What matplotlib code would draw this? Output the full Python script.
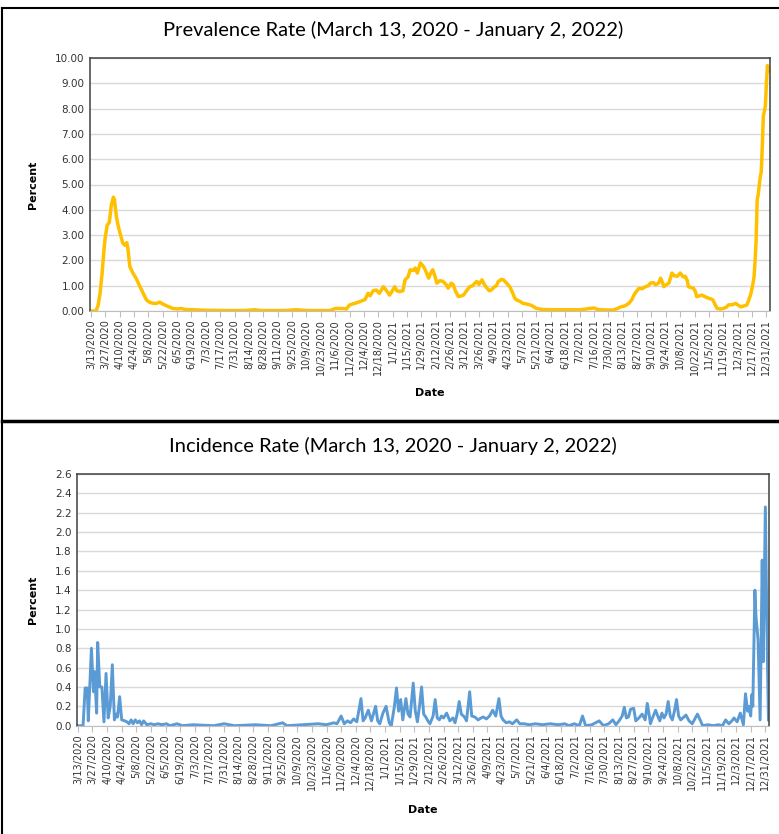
import matplotlib
matplotlib.use("Agg")
import matplotlib.pyplot as plt
import numpy as np

# tick labels every 14 days from 3/13/2020
tick_labels = ["3/13/2020", "3/27/2020", "4/10/2020", "4/24/2020", "5/8/2020", "5/22/2020",
               "6/5/2020", "6/19/2020", "7/3/2020", "7/17/2020", "7/31/2020", "8/14/2020",
               "8/28/2020", "9/11/2020", "9/25/2020", "10/9/2020", "10/23/2020", "11/6/2020",
               "11/20/2020", "12/4/2020", "12/18/2020", "1/1/2021", "1/15/2021", "1/29/2021",
               "2/12/2021", "2/26/2021", "3/12/2021", "3/26/2021", "4/9/2021", "4/23/2021",
               "5/7/2021", "5/21/2021", "6/4/2021", "6/18/2021", "7/2/2021", "7/16/2021",
               "7/30/2021", "8/13/2021", "8/27/2021", "9/10/2021", "9/24/2021", "10/8/2021",
               "10/22/2021", "11/5/2021", "11/19/2021", "12/3/2021", "12/17/2021", "12/31/2021"]
tick_days = [14 * i for i in range(len(tick_labels))]

# prevalence (days since 3/13/2020, percent)
prev_day = [0, 5, 7, 9, 11, 13, 14, 16, 18, 20, 22, 23, 25, 27, 29, 31, 33, 35, 36, 38, 41, 44, 48,
            51, 54, 57, 61, 64, 67, 70, 74, 77, 80, 84, 88, 92, 100, 110, 130, 150, 160, 165, 190,
            200, 210, 233, 238, 245, 249, 252, 257, 262, 267, 270, 272, 275, 278, 281, 285, 288,
            291, 293, 296, 298, 301, 304, 306, 309, 311, 314, 316, 318, 321, 324, 326, 329, 331,
            333, 335, 337, 340, 343, 346, 348, 351, 353, 355, 358, 361, 363, 366, 369, 372, 374,
            376, 378, 381, 384, 386, 388, 390, 393, 395, 397, 400, 402, 405, 408, 411, 413, 415,
            418, 421, 424, 428, 431, 434, 440, 450, 460, 470, 477, 482, 486, 490, 493, 496, 503,
            509, 513, 516, 520, 524, 527, 529, 531, 534, 537, 540, 543, 545, 548, 550, 553, 555,
            557, 558, 561, 563, 566, 568, 571, 573, 574, 577, 579, 581, 582, 585, 587, 589, 590,
            593, 595, 599, 602, 604, 606, 608, 610, 613, 616, 619, 621, 625, 628, 631, 633, 636,
            639, 641, 643, 645, 646, 647, 648, 649, 650, 652, 653, 654, 655, 657, 658, 659, 660]
prev_val = [0, 0, 0.2, 0.7, 1.5, 2.5, 2.9, 3.4, 3.5, 4.2, 4.5, 4.4, 3.7, 3.3, 3.0, 2.7, 2.6, 2.7, 2.5,
            1.75, 1.5, 1.3, 0.95, 0.7, 0.45, 0.35, 0.3, 0.3, 0.35, 0.28, 0.2, 0.15, 0.1, 0.08, 0.1,
            0.06, 0.05, 0.03, 0.02, 0.02, 0.05, 0.02, 0.02, 0.05, 0.02, 0.02, 0.1, 0.1, 0.08, 0.24,
            0.3, 0.37, 0.45, 0.7, 0.6, 0.8, 0.83, 0.7, 0.96, 0.8, 0.63, 0.75, 0.96, 0.8, 0.77, 0.8,
            1.23, 1.35, 1.63, 1.6, 1.7, 1.5, 1.9, 1.76, 1.6, 1.3, 1.5, 1.63, 1.4, 1.1, 1.2, 1.17,
            1.05, 0.9, 1.1, 1.04, 0.8, 0.57, 0.6, 0.63, 0.8, 0.96, 1.0, 1.1, 1.17, 1.05, 1.23, 1.0,
            0.9, 0.8, 0.83, 0.95, 1.0, 1.17, 1.25, 1.23, 1.1, 0.96, 0.7, 0.5, 0.43, 0.38, 0.3, 0.28,
            0.24, 0.18, 0.1, 0.06, 0.05, 0.05, 0.05, 0.05, 0.08, 0.1, 0.12, 0.07, 0.05, 0.04, 0.04,
            0.1, 0.16, 0.2, 0.3, 0.45, 0.63, 0.75, 0.9, 0.88, 0.96, 1.0, 1.1, 1.12, 1.04, 1.1, 1.3,
            1.1, 0.96, 1.05, 1.1, 1.5, 1.4, 1.37, 1.45, 1.5, 1.35, 1.37, 1.2, 0.96, 0.92, 0.9, 0.75,
            0.57, 0.6, 0.63, 0.55, 0.5, 0.48, 0.43, 0.25, 0.1, 0.08, 0.1, 0.15, 0.24, 0.25, 0.3,
            0.22, 0.16, 0.2, 0.24, 0.45, 0.7, 1.1, 1.37, 2.0, 2.8, 4.4, 4.6, 5.3, 5.5, 6.5, 7.7,
            8.1, 9.0, 9.7, 9.5]

# incidence (days since 3/13/2020, percent)
inc_day = [0, 5, 7, 9, 10, 11, 13, 15, 16, 18, 19, 21, 23, 25, 27, 29, 31, 33, 35, 37, 38, 40, 42,
           45, 47, 49, 51, 53, 55, 57, 59, 61, 63, 66, 70, 73, 77, 80, 85, 88, 95, 100, 110, 130,
           140, 150, 170, 185, 196, 200, 215, 230, 238, 245, 248, 252, 255, 258, 261, 264, 267,
           271, 273, 275, 278, 281, 285, 287, 289, 292, 295, 298, 300, 303, 305, 307, 309, 311,
           314, 316, 318, 321, 323, 325, 327, 329, 331, 333, 335, 337, 340, 342, 344, 346, 348,
           350, 353, 356, 359, 361, 363, 365, 367, 370, 372, 375, 377, 380, 383, 386, 388, 391,
           394, 397, 400, 403, 405, 407, 410, 413, 416, 420, 423, 427, 432, 438, 445, 452, 460,
           466, 470, 475, 480, 483, 486, 492, 499, 503, 508, 512, 515, 518, 521, 523, 525, 527,
           529, 532, 534, 537, 540, 543, 545, 547, 548, 550, 553, 555, 557, 559, 561, 563, 565,
           567, 569, 571, 573, 575, 577, 580, 582, 585, 588, 590, 593, 596, 598, 603, 608, 613,
           617, 620, 623, 626, 628, 631, 634, 636, 637, 639, 641, 642, 644, 645, 646, 648, 649,
           651, 653, 655, 656, 658, 660, 661]
inc_val = [0, 0, 0.39, 0.39, 0.05, 0.3, 0.8, 0.35, 0.56, 0.13, 0.86, 0.4, 0.4, 0.04, 0.54, 0.08,
           0.2, 0.63, 0.06, 0.12, 0.09, 0.3, 0.06, 0.05, 0.04, 0.02, 0.06, 0.02, 0.06, 0.03, 0.05,
           0.01, 0.05, 0.01, 0.02, 0.01, 0.02, 0.01, 0.02, 0.0, 0.02, 0.0, 0.01, 0.0, 0.02, 0.0,
           0.01, 0.0, 0.03, 0.0, 0.01, 0.02, 0.01, 0.03, 0.02, 0.1, 0.02, 0.05, 0.03, 0.07, 0.04,
           0.28, 0.05, 0.08, 0.16, 0.05, 0.2, 0.05, 0.02, 0.13, 0.2, 0.03, 0.0, 0.2, 0.39, 0.15,
           0.27, 0.06, 0.28, 0.12, 0.09, 0.44, 0.15, 0.04, 0.2, 0.4, 0.12, 0.09, 0.05, 0.02, 0.1,
           0.27, 0.08, 0.06, 0.1, 0.08, 0.13, 0.05, 0.08, 0.03, 0.12, 0.25, 0.12, 0.09, 0.05, 0.35,
           0.1, 0.09, 0.06, 0.08, 0.09, 0.07, 0.1, 0.16, 0.1, 0.28, 0.1, 0.06, 0.03, 0.04, 0.02,
           0.06, 0.02, 0.02, 0.01, 0.02, 0.01, 0.02, 0.01, 0.02, 0.0, 0.02, 0.0, 0.1, 0.0, 0.01,
           0.05, 0.0, 0.02, 0.06, 0.01, 0.05, 0.1, 0.19, 0.08, 0.09, 0.17, 0.18, 0.05, 0.08, 0.12,
           0.06, 0.23, 0.1, 0.02, 0.08, 0.16, 0.1, 0.05, 0.13, 0.08, 0.12, 0.25, 0.1, 0.06, 0.15,
           0.27, 0.1, 0.06, 0.09, 0.11, 0.05, 0.02, 0.06, 0.12, 0.05, 0.0, 0.01, 0.0, 0.01, 0.0,
           0.06, 0.02, 0.05, 0.08, 0.04, 0.13, 0.05, 0.01, 0.33, 0.15, 0.2, 0.1, 0.32, 0.2, 1.4,
           1.13, 0.89, 0.06, 1.71, 0.66, 2.26, 0.66, 0.06]

title_font = "Lato"
tick_color = "#333333"

fig = plt.figure(figsize=(7.79, 8.34), dpi=100)
W, H = 779.0, 834.0


def style_axes(ax, yticks, fmt):
    ax.set_xlim(-0.8, 661.5)
    ax.set_xticks(tick_days)
    ax.set_xticklabels(tick_labels, rotation=90, fontsize=7, color=tick_color)
    ax.set_yticks(yticks)
    ax.set_yticklabels([fmt % v for v in yticks], fontsize=7.5, color=tick_color)
    ax.set_ylim(yticks[0], yticks[-1])
    ax.grid(axis="y", color="#d9d9d9", linewidth=1)
    ax.set_axisbelow(True)
    for s in ["top", "right", "left"]:
        ax.spines[s].set_color("#404040")
        ax.spines[s].set_linewidth(1.1)
    ax.spines["bottom"].set_color("#bfbfbf")
    ax.tick_params(axis="x", color="#bfbfbf", length=4, pad=2)
    ax.tick_params(axis="y", length=0, pad=4)


# top panel - prevalence
ax1 = fig.add_axes([90 / W, 1 - 311 / H, 680 / W, 253 / H])
ax1.plot(prev_day, prev_val, color="#ffc000", linewidth=2.5, solid_joinstyle="round")
style_axes(ax1, [float(v) for v in range(11)], "%.2f")
fig.text(393 / W, 1 - 30 / H, "Prevalence Rate (March 13, 2020 - January 2, 2022)",
         ha="center", va="center", fontsize=14.5, family=title_font)
fig.text(33 / W, 1 - 185 / H, "Percent", rotation=90, ha="center", va="center",
         fontsize=8, fontweight="bold")
fig.text(430 / W, 1 - 393 / H, "Date", ha="center", va="center", fontsize=8, fontweight="bold")

# bottom panel - incidence
ax2 = fig.add_axes([77 / W, 1 - 725.7 / H, 692 / W, 251.7 / H])
ax2.plot(inc_day, inc_val, color="#5b9bd5", linewidth=2.1, solid_joinstyle="round")
style_axes(ax2, [round(0.2 * i, 1) for i in range(14)], "%.1f")
fig.text(393 / W, 1 - 446 / H, "Incidence Rate (March 13, 2020 - January 2, 2022)",
         ha="center", va="center", fontsize=14.5, family=title_font)
fig.text(33 / W, 1 - 600 / H, "Percent", rotation=90, ha="center", va="center",
         fontsize=8, fontweight="bold")
fig.text(423 / W, 1 - 810 / H, "Date", ha="center", va="center", fontsize=8, fontweight="bold")

# panel borders
fig.add_artist(plt.Line2D([2 / W, 1], [1 - 8 / H, 1 - 8 / H], color="black", linewidth=1.5))
fig.add_artist(plt.Line2D([2 / W, 2 / W], [1 - 8 / H, 0], color="black", linewidth=1.5))
fig.add_artist(plt.Line2D([2 / W, 1], [1 - 421 / H, 1 - 421 / H], color="black", linewidth=2.5))

fig.savefig("out.png", dpi=100)
